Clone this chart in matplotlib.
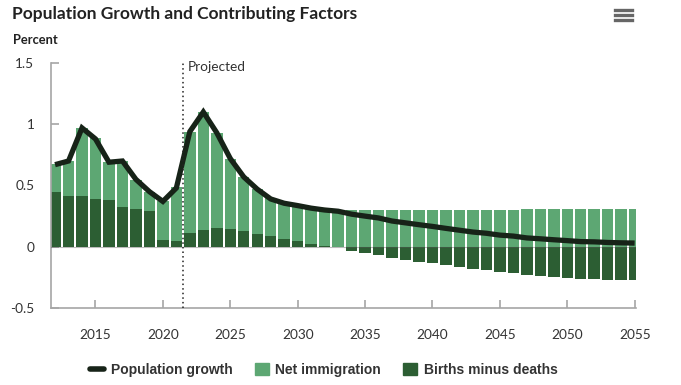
import numpy as np
import matplotlib
matplotlib.use("Agg")
import matplotlib.pyplot as plt
from matplotlib.lines import Line2D
from matplotlib.patches import Patch

years = list(range(2012, 2056))

births_minus_deaths = [0.444, 0.414, 0.414, 0.387, 0.379, 0.323, 0.306, 0.290, 0.056, 0.048,
                       0.113, 0.137, 0.153, 0.145, 0.129, 0.105, 0.089, 0.065, 0.048, 0.024,
                       0.008, -0.005, -0.032, -0.048, -0.065, -0.089, -0.105, -0.121, -0.134, -0.150,
                       -0.169, -0.183, -0.191, -0.207, -0.215, -0.231, -0.239, -0.247, -0.255, -0.263,
                       -0.263, -0.272, -0.272, -0.272]

net_immigration = [0.231, 0.286, 0.554, 0.500, 0.309, 0.381, 0.242, 0.156, 0.315, 0.436,
                   0.825, 0.960, 0.774, 0.573, 0.444, 0.365, 0.309, 0.290, 0.288, 0.291,
                   0.293, 0.296, 0.296, 0.298, 0.298, 0.300, 0.300, 0.300, 0.302, 0.303,
                   0.303, 0.304, 0.304, 0.304, 0.304, 0.305, 0.305, 0.305, 0.305, 0.305,
                   0.305, 0.305, 0.305, 0.305]

population_growth = [0.67, 0.70, 0.97, 0.88, 0.69, 0.70, 0.55, 0.45, 0.37, 0.48,
                     0.94, 1.10, 0.93, 0.72, 0.57, 0.47, 0.39, 0.355, 0.336, 0.315,
                     0.30, 0.29, 0.266, 0.25, 0.235, 0.21, 0.195, 0.18, 0.166, 0.15,
                     0.135, 0.12, 0.11, 0.095, 0.087, 0.072, 0.065, 0.057, 0.05, 0.042,
                     0.04, 0.035, 0.032, 0.03]

x_ticks = [2015, 2020, 2025, 2030, 2035, 2040, 2045, 2050, 2055]
y_ticks = [-0.5, 0, 0.5, 1, 1.5]
y_labels = ["-0.5", "0", "0.5", "1", "1.5"]

light = "#5da773"
dark = "#2c5e33"
line_col = "#172318"
grey = "#a6a6a6"
txt = "#333333"

plt.rcParams["font.family"] = ["Lato", "DejaVu Sans"]

fig = plt.figure(figsize=(6.81, 3.85), dpi=100)
ax = fig.add_axes([51/681, 1 - 308/385, (636 - 51)/681, (308 - 63)/385])

bmd = np.array(births_minus_deaths)
ax.bar(years, bmd, width=0.85, color=dark, zorder=2, linewidth=0)
ax.bar(years, net_immigration, bottom=np.maximum(bmd, 0), width=0.85,
       color=light, zorder=2, linewidth=0)
ax.axhline(0, color="#555555", lw=0.8, alpha=0.4, zorder=3)
ax.plot(years, population_growth, color=line_col, lw=3.8, zorder=4,
        solid_joinstyle="miter", solid_capstyle="butt")

ax.axvline(2021.5, color="#222222", lw=1.1, ls=(0, (1, 2)), zorder=5)
ax.text(2021.85, 1.47, "Projected", fontsize=9.8, color=txt, va="center", ha="left")

ax.set_xlim(2011.7, 2055.1)
ax.set_ylim(-0.5, 1.5)
ax.set_xticks(x_ticks)
ax.set_yticks(y_ticks)
ax.set_yticklabels(y_labels)
for s in ["top", "right"]:
    ax.spines[s].set_visible(False)
for s in ["left", "bottom"]:
    ax.spines[s].set_color(grey)
    ax.spines[s].set_linewidth(1.2)
ax.tick_params(axis="both", direction="in", length=6, width=1.2, color=grey,
               labelsize=9.8, labelcolor=txt)
ax.tick_params(axis="x", pad=15)
ax.tick_params(axis="y", pad=12)

fig.text(12/681, 1 - 14/385, "Population Growth and Contributing Factors",
         fontsize=12.5, fontweight="bold", color="#222222", va="center", ha="left")
fig.text(13/681, 1 - 40/385, "Percent", fontsize=9.3, fontweight="bold",
         color="#222222", va="center", ha="left")

# menu icon
for yy in [9.5, 14.5, 19.5]:
    fig.add_artist(Line2D([615/681, 632/681], [1 - yy/385, 1 - yy/385],
                          color="#666666", lw=2.4, transform=fig.transFigure))

handles = [Line2D([0], [0], color=line_col, lw=4, solid_capstyle="round"),
           Patch(color=light), Patch(color=dark)]
labels = ["Population growth", "Net immigration", "Births minus deaths"]
leg = fig.legend(handles, labels, loc="center", bbox_to_anchor=(324/681, 1 - 370/385),
                 ncol=3, frameon=False, handlelength=1.0, handleheight=1.0,
                 handletextpad=0.5, columnspacing=1.6,
                 prop={"family": "Liberation Sans", "weight": "bold", "size": 10})
for t in leg.get_texts():
    t.set_color(txt)

fig.savefig("out.png", dpi=100)
